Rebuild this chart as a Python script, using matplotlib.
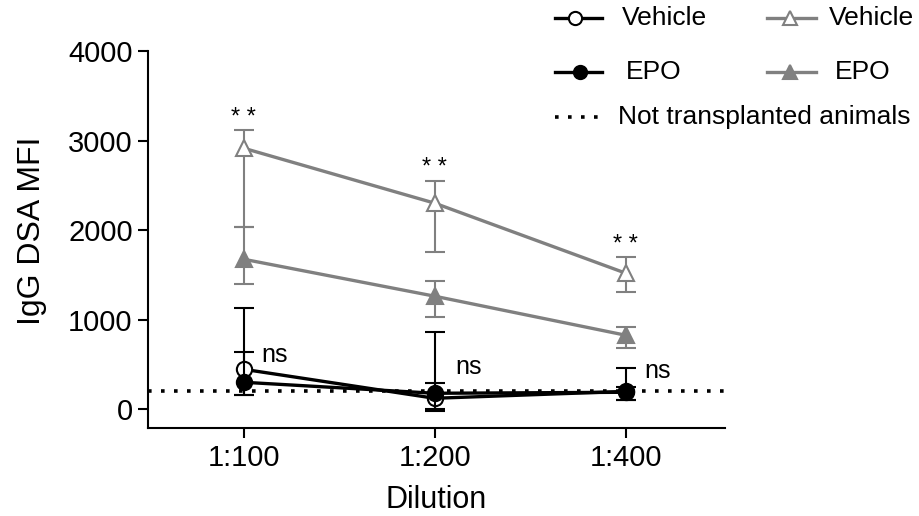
import matplotlib
matplotlib.use("Agg")
import matplotlib.pyplot as plt
from matplotlib.lines import Line2D
import numpy as np

plt.rcParams['font.family'] = ['Liberation Sans', 'DejaVu Sans']

dilutions = ['1:100', '1:200', '1:400']

# black series (circles)
veh_b = [447, 123, 200]
veh_b_lo = [291, 143, 100]
veh_b_hi = [681, 737, 258]
epo_b = [302, 179, 190]
epo_b_lo = [146, 179, 90]
epo_b_hi = [335, 111, 60]

# gray series (triangles)
veh_g = [2916, 2302, 1520]
veh_g_lo = [882, 548, 213]
veh_g_hi = [201, 245, 178]
epo_g = [1676, 1263, 827]
epo_g_lo = [279, 235, 145]
epo_g_hi = [358, 167, 89]

baseline = 200
stars = ['* *', '* *', '* *']
star_y = [3250, 2690, 1830]
ns_y = [603, 469, 424]

gray = '#808080'
x = np.arange(len(dilutions))
dots = (0, (1, 2.6))

fig = plt.figure(figsize=(9.19, 5.16), dpi=100)
ax = fig.add_axes([0.161, 0.17, 0.628, 0.731])

ax.axhline(baseline, color='black', lw=2.6, linestyle=dots, zorder=1)

ax.errorbar(x, veh_g, yerr=[veh_g_lo, veh_g_hi], color=gray, lw=2.4, ecolor=gray,
            elinewidth=1.5, capsize=7, capthick=1.5, marker='^', ms=11,
            mfc='white', mec=gray, mew=1.5, zorder=3)
ax.errorbar(x, epo_g, yerr=[epo_g_lo, epo_g_hi], color=gray, lw=2.4, ecolor=gray,
            elinewidth=1.5, capsize=7, capthick=1.5, marker='^', ms=11,
            mfc=gray, mec=gray, mew=1.5, zorder=3)
ax.errorbar(x, veh_b, yerr=[veh_b_lo, veh_b_hi], color='black', lw=2.4,
            elinewidth=1.5, capsize=7, capthick=1.5, marker='o', ms=11,
            mfc='white', mec='black', mew=1.5, zorder=4)
ax.errorbar(x, epo_b, yerr=[epo_b_lo, epo_b_hi], color='black', lw=2.4,
            elinewidth=1.5, capsize=7, capthick=1.5, marker='o', ms=11,
            mfc='black', mec='black', mew=1.5, zorder=5)

for i in range(len(x)):
    ax.text(x[i], star_y[i], stars[i], ha='center', va='center', fontsize=17)
ns_x = [0.095, 1.11, 2.1]
for i in range(len(x)):
    ax.text(ns_x[i], ns_y[i], 'ns', ha='left', va='center', fontsize=18)

ax.set_xlim(-0.5, 2.52)
ax.set_ylim(-212, 4000)
ax.set_yticks([0, 1000, 2000, 3000, 4000])
ax.set_xticks(x)
ax.set_xticklabels(dilutions)
ax.tick_params(axis='both', labelsize=21, length=7, width=1.5, direction='out', pad=4)
ax.spines['top'].set_visible(False)
ax.spines['right'].set_visible(False)
ax.spines['left'].set_linewidth(1.5)
ax.spines['bottom'].set_linewidth(1.5)
ax.set_ylabel('IgG DSA MFI', fontsize=23)
ax.yaxis.set_label_coords(-0.175, 0.523)
ax.set_xlabel('Dilution', fontsize=22, labelpad=10)

# legend drawn in figure coordinates
rows = [0.965, 0.860, 0.773]
leg_black = [('Vehicle', 'white', 0.626, 0.677), ('EPO', 'black', 0.631, 0.681)]
leg_gray = [('Vehicle', 'white', 0.902), ('EPO', gray, 0.909)]
for (lab, fc, mx, tx), y in zip(leg_black, rows):
    fig.add_artist(Line2D([0.604, 0.655], [y, y], color='black', lw=2.4,
                          transform=fig.transFigure))
    fig.add_artist(Line2D([mx], [y], marker='o', ms=9.5, mfc=fc, mec='black',
                          mew=1.5, transform=fig.transFigure))
    fig.text(tx, y, lab, fontsize=19, va='center')
for (lab, fc, tx), y in zip(leg_gray, rows):
    fig.add_artist(Line2D([0.835, 0.888], [y, y], color=gray, lw=2.4,
                          transform=fig.transFigure))
    fig.add_artist(Line2D([0.860], [y], marker='^', ms=10, mfc=fc, mec=gray,
                          mew=1.5, transform=fig.transFigure))
    fig.text(tx, y, lab, fontsize=19, va='center')
fig.add_artist(Line2D([0.604, 0.651], [rows[2], rows[2]], color='black', lw=2.6,
                      linestyle=dots, transform=fig.transFigure))
fig.text(0.672, rows[2], 'Not transplanted animals', fontsize=19, va='center')

fig.savefig('out.png', dpi=100)
